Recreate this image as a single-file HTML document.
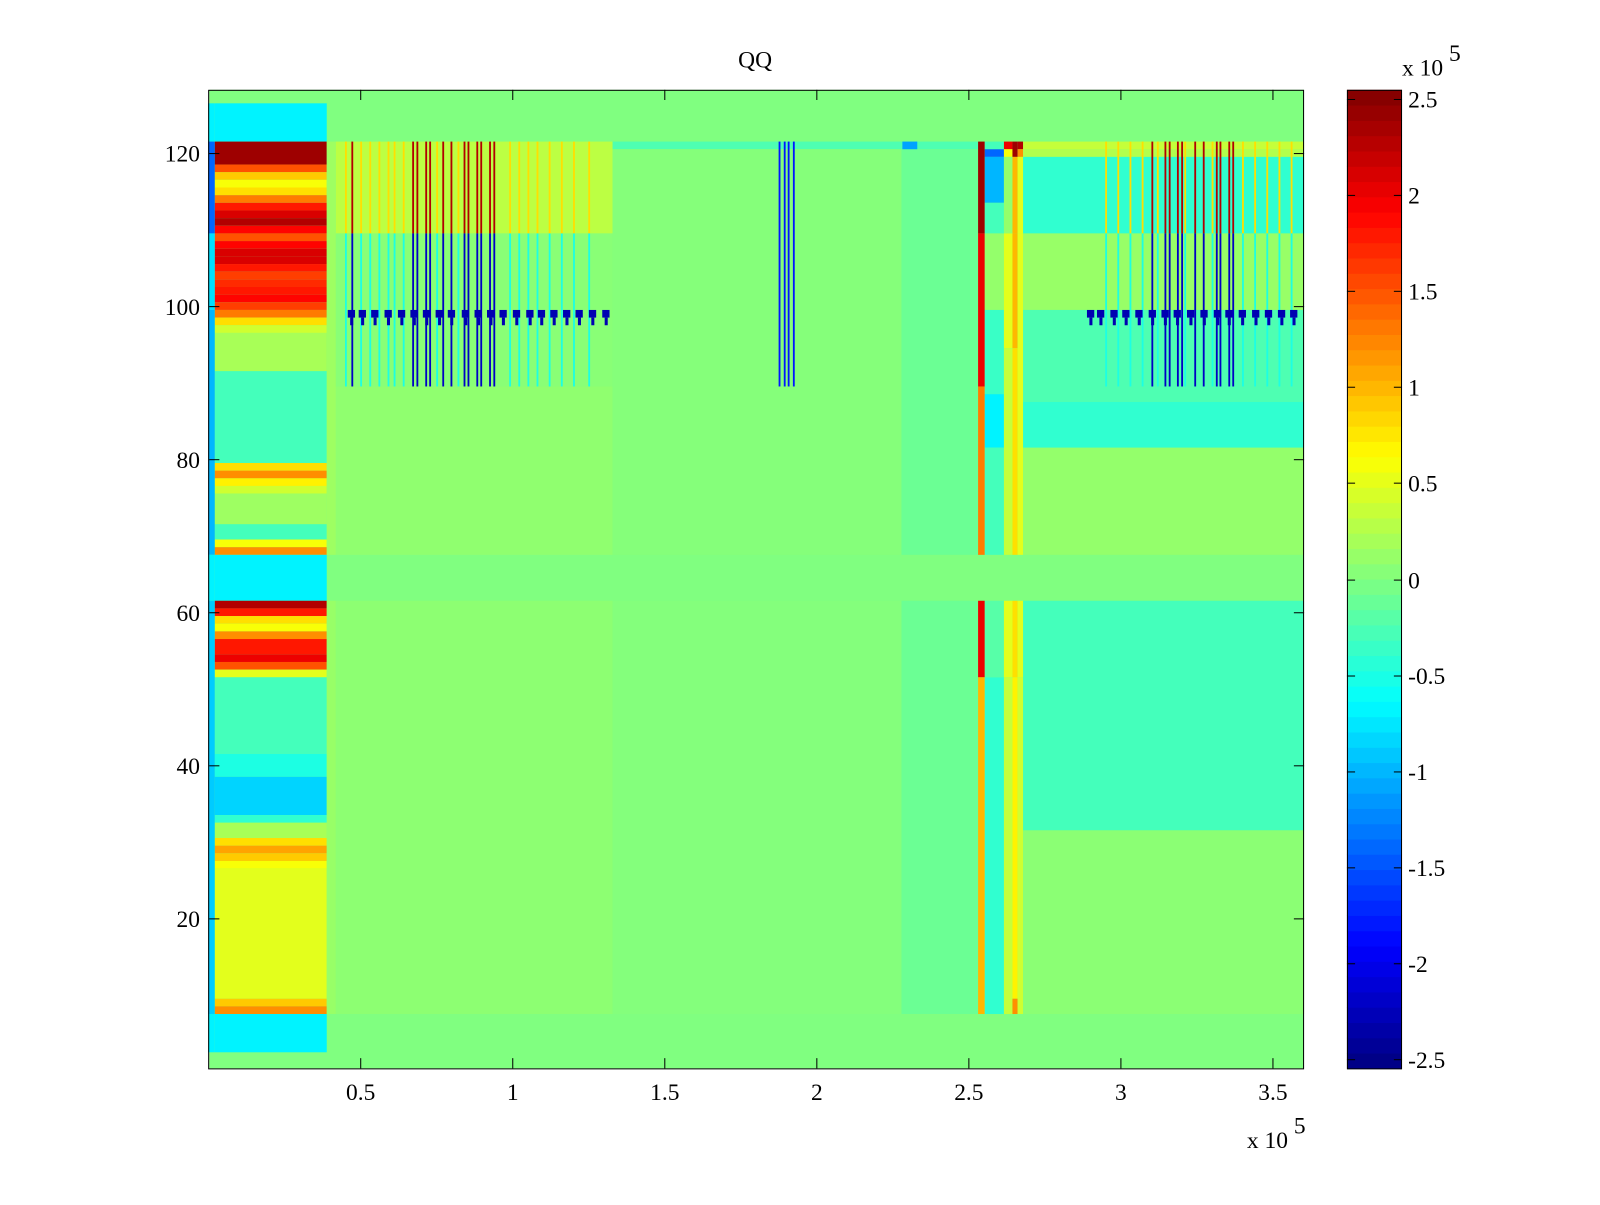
<!DOCTYPE html>
<html><head><meta charset="utf-8"><style>
body{margin:0;background:#fff;}
svg text{font-family:"Liberation Serif",serif;font-size:23px;fill:#000;}
</style></head><body>
<svg id="chart" width="1600" height="1200" xmlns="http://www.w3.org/2000/svg">
<rect width="1600" height="1200" fill="#fff"/>
<g transform="scale(1.0204)">
<g id="cells"></g>
<g id="cbar"></g>
<g id="axes"></g>
<text x="740" y="66" text-anchor="middle">QQ</text>
</g>
</svg>
<script>
// ---- data (x in units of 1e5, rows 1..128, values in units of 1e5) ----
const xTicks=[0.5,1,1.5,2,2.5,3,3.5];
const xTickLabels=["0.5","1","1.5","2","2.5","3","3.5"];
const yTicks=[20,40,60,80,100,120];
const yTickLabels=["20","40","60","80","100","120"];
const cTicks=[2.5,2,1.5,1,0.5,0,-0.5,-1,-1.5,-2,-2.5];
const cTickLabels=["2.5","2","1.5","1","0.5","0","-0.5","-1","-1.5","-2","-2.5"];

const leftEdgeBands=[[122,126,-0.7],[110,121,-1.4],[100,109,-0.8],[68,99,-1.0],[62,67,-0.7],[8,61,-0.9],[3,7,-0.7]];
const leftMainBands=[[122,126,-0.7],[119,121,2.4],[118,118,1.5],[117,117,0.9],[116,116,0.6],[115,115,0.8],[114,114,1.3],[113,113,1.8],[112,112,2.1],[111,111,2.3],[110,110,1.9],[109,109,1.5],[108,108,1.9],[107,107,2.1],[106,106,2.1],[105,105,1.8],[104,104,1.6],[103,103,1.7],[102,102,1.8],[101,101,1.9],[100,100,1.6],[99,99,1.3],[98,98,0.8],[97,97,0.4],[96,92,0.2],[91,80,-0.3],[79,79,0.8],[78,78,1.2],[77,77,0.7],[76,76,0.4],[75,72,0.15],[71,70,-0.3],[69,69,0.6],[68,68,1.2],[62,67,-0.7],[61,61,2.3],[60,60,1.8],[59,59,0.8],[58,58,0.6],[57,57,1.2],[56,55,1.8],[54,54,2.0],[53,53,1.5],[52,52,0.5],[51,42,-0.3],[41,39,-0.5],[38,34,-0.85],[33,33,-0.4],[32,31,0.2],[30,30,0.8],[29,29,1.1],[28,28,0.9],[27,27,0.6],[26,10,0.5],[9,9,0.9],[8,8,1.2],[3,7,-0.7]];
const gapBands=[[68,121,0.15],[8,61,0.12]];
const leftStripeZoneBands=[[110,121,0.3],[90,109,0.05],[68,89,0.08],[8,61,0.07]];
const midZoneBands=[[121,121,-0.25],[68,120,0.03],[8,61,0.02]];
const preRightZoneBands=[[121,121,-0.25],[68,120,-0.1],[8,61,-0.1]];
const blueSquareBands=[[121,121,-1.1]];
const redStripBands=[[110,121,2.4],[90,109,2.0],[68,89,1.3],[52,61,2.0],[8,51,1.0]];
const cyanStripBands=[[121,121,-0.3],[120,120,-1.4],[114,119,-1.0],[110,113,-0.3],[100,109,0.1],[89,99,-0.35],[82,88,-0.7],[68,81,-0.3],[52,61,-0.2],[8,51,-0.4]];
const yellowStripBands=[[121,121,2.0],[120,120,0.6],[110,119,0.1],[95,109,0.5],[68,94,0.35],[52,61,0.5],[8,51,0.35]];
const orangeStripBands=[[120,121,2.4],[110,119,1.0],[95,109,1.0],[68,94,0.8],[52,61,0.8],[10,51,0.7],[8,9,1.2]];
const yellow2StripBands=[[121,121,2.3],[120,120,1.2],[110,119,0.5],[68,109,0.5],[52,61,0.5],[8,51,0.4]];
const rightZoneBands=[[121,121,0.35],[120,120,0.25],[110,119,-0.4],[100,109,0.12],[88,99,-0.25],[82,87,-0.4],[68,81,0.1],[32,61,-0.3],[8,31,0.06]];

const columns=[
 [0,0.022,leftEdgeBands],[0.022,0.39,leftMainBands],[0.39,0.42,gapBands],
 [0.42,1.33,leftStripeZoneBands],[1.33,2.28,midZoneBands],[2.28,2.532,preRightZoneBands],
 [2.283,2.332,blueSquareBands],
 [2.532,2.554,redStripBands],[2.554,2.617,cyanStripBands],[2.617,2.645,yellowStripBands],
 [2.645,2.662,orangeStripBands],[2.662,2.68,yellow2StripBands],[2.68,3.604,rightZoneBands]
];

const strongStripeX=[0.471,0.671,0.685,0.714,0.727,0.770,0.797,0.840,0.853,0.882,0.895,0.924,0.938,3.102,3.145,3.159,3.186,3.2,3.243,3.271,3.314,3.326,3.355,3.368];
const strongStripeTop=2.3, strongStripeBottom=-2.2;
const faintStripeX=[0.45,0.50,0.53,0.56,0.59,0.61,0.64,0.75,0.82,0.99,1.02,1.05,1.08,1.12,1.16,1.20,1.25,2.95,2.99,3.03,3.07,3.12,3.21,3.30,3.40,3.44,3.48,3.52,3.56];
const faintStripeTop=0.8, faintStripeBottom=-0.5;
const midBlueX=[1.876,1.893,1.906,1.923];
const midBlueVal=-1.8;
const squareX=[0.471,0.507,0.548,0.592,0.636,0.677,0.718,0.760,0.800,0.846,0.888,0.929,0.970,1.014,1.058,1.096,1.137,1.179,1.220,1.264,1.308,2.902,2.935,2.979,3.018,3.061,3.105,3.147,3.187,3.231,3.275,3.319,3.357,3.401,3.445,3.487,3.53,3.57];
const squareVal=-2.3;

// ---- scales ----
const X0=204,PX=298,Y0=1050,PY=7.5;
const xs=v=>X0+v*PX;
const ys=r=>Y0-r*PY;
const CMIN=-2.55,CMAX=2.55;
function jet(v){let t=(v-CMIN)/(CMAX-CMIN);t=Math.max(0,Math.min(1,t));
 const c=x=>Math.round(255*Math.max(0,Math.min(1,1.5-Math.abs(4*t-x))));
 return `rgb(${c(3)},${c(2)},${c(1)})`;}
const NS="http://www.w3.org/2000/svg";
function rect(g,x,y,w,h,fill,name){const r=document.createElementNS(NS,'rect');
 r.setAttribute('x',x);r.setAttribute('y',y);r.setAttribute('width',w);r.setAttribute('height',h);r.setAttribute('fill',fill);
 
 
 g.appendChild(r);return r;}
function txt(g,x,y,s,anchor,name,size){const t=document.createElementNS(NS,'text');
 t.setAttribute('x',x);t.setAttribute('y',y);t.setAttribute('text-anchor',anchor);if(size)t.setAttribute('font-size',size);t.textContent=s;
 
 
 g.appendChild(t);return t;}

const cells=document.getElementById('cells');
rect(cells,205,88,1073,959,jet(0),'heatmap-background');
function band(x0,x1,r0,r1,v){const lo=Math.min(r0,r1),hi=Math.max(r0,r1);
 rect(cells,xs(x0),ys(hi+0.5),Math.max(xs(x1)-xs(x0),0.5),(hi-lo+1)*PY,jet(v),'heatmap-cell');}
columns.forEach(([a,b,bands])=>bands.forEach(([r0,r1,v])=>band(a,b,r0,r1,v)));
faintStripeX.forEach(x=>{band(x,x+0.006,110,121,faintStripeTop);band(x,x+0.006,90,109,faintStripeBottom);});
strongStripeX.forEach(x=>{band(x,x+0.006,110,121,strongStripeTop);band(x,x+0.006,90,109,strongStripeBottom);});
midBlueX.forEach(x=>band(x,x+0.006,90,121,midBlueVal));
squareX.forEach(x=>{band(x-0.012,x+0.012,99,99,squareVal);band(x-0.004,x+0.006,98,98,squareVal);});

// ---- axes ----
const ax=document.getElementById('axes');
const box=rect(ax,204.5,88.5,1073,959,'none','plot-frame');box.setAttribute('stroke','#000');box.setAttribute('stroke-width','1');
function line(g,x1,y1,x2,y2,name){const l=document.createElementNS(NS,'line');
 l.setAttribute('x1',x1);l.setAttribute('y1',y1);l.setAttribute('x2',x2);l.setAttribute('y2',y2);l.setAttribute('stroke','#000');
 
 
 g.appendChild(l);}
xTicks.forEach((v,i)=>{const x=Math.round(xs(v))+0.5;line(ax,x,1047,x,1037,'x-tick');line(ax,x,88,x,98,'x-tick');
 txt(ax,x,1078,xTickLabels[i],'middle','x-tick-label');});
yTicks.forEach((v,i)=>{const y=Math.round(ys(v))+0.5;line(ax,205,y,215,y,'y-tick');line(ax,1278,y,1268,y,'y-tick');
 txt(ax,196,y+8,yTickLabels[i],'end','y-tick-label');});
txt(ax,1222,1125,'x 10','start','x-axis-exponent');txt(ax,1268,1111,'5','start','x-axis-exponent-power',15);

// ---- colorbar ----
const cb=document.getElementById('cbar');
const CB_X=1320,CB_W=54,CB_T=88,CB_B=1047;
const cys=v=>CB_T+(CMAX-v)/(CMAX-CMIN)*(CB_B-CB_T);
for(let i=0;i<64;i++){const v0=CMIN+(CMAX-CMIN)*i/64,v1=CMIN+(CMAX-CMIN)*(i+1)/64;
 rect(cb,CB_X,cys(v1),CB_W,cys(v0)-cys(v1)+0.5,jet((v0+v1)/2),'colorbar-segment');}
const cf=rect(cb,CB_X+0.5,CB_T+0.5,CB_W-1,CB_B-CB_T,'none','colorbar-frame');cf.setAttribute('stroke','#000');
cTicks.forEach((v,i)=>{const y=Math.round(cys(v))+0.5;line(cb,CB_X,y,CB_X+8,y,'colorbar-tick');line(cb,CB_X+CB_W,y,CB_X+CB_W-8,y,'colorbar-tick');
 txt(cb,1380,y+8,cTickLabels[i],'start','colorbar-tick-label');});
txt(cb,1374,74,'x 10','start','colorbar-exponent');txt(cb,1420,60,'5','start','colorbar-exponent-power',15);
</script>
</body></html>
